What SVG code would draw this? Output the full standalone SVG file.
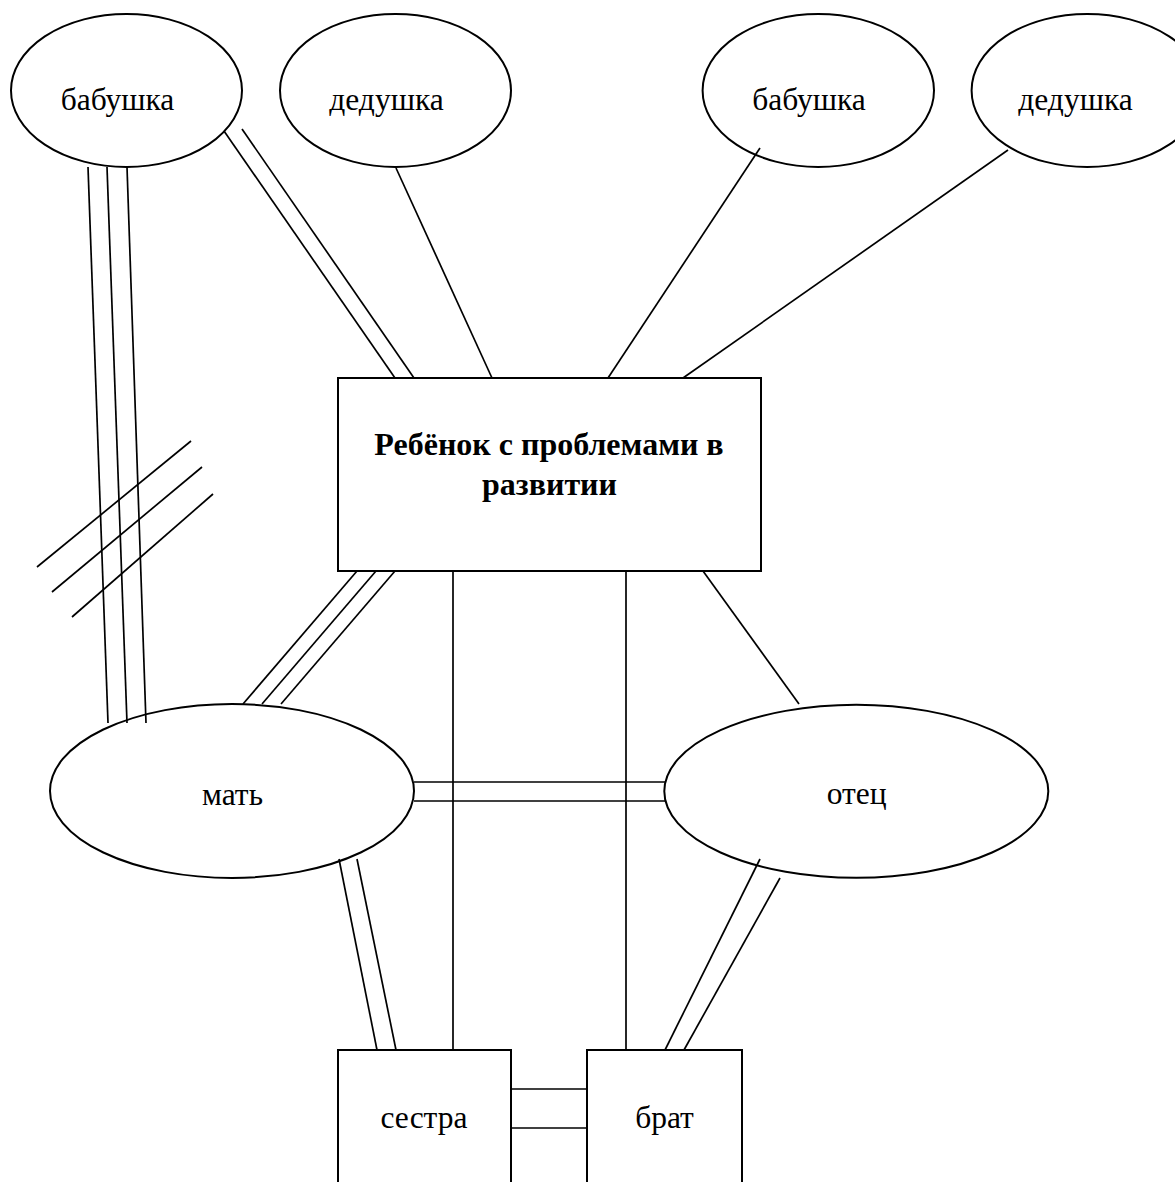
<svg xmlns="http://www.w3.org/2000/svg" width="1175" height="1182" viewBox="0 0 1175 1182">
<style>
.shape{fill:none;stroke:#000;stroke-width:2}
.ln{stroke:#000;stroke-width:1.7;fill:none}
.t{font-family:"Liberation Serif","Times New Roman",serif;font-size:31.5px;fill:#000;text-anchor:middle}
.tb{font-family:"Liberation Serif","Times New Roman",serif;font-size:32px;font-weight:bold;fill:#000;text-anchor:middle}
</style>
<rect width="1175" height="1182" fill="#fff"/>
<g id="connectors">
<line class="ln" x1="88" y1="167" x2="108" y2="723"/>
<line class="ln" x1="107" y1="167" x2="127" y2="723"/>
<line class="ln" x1="127" y1="167" x2="146" y2="723"/>
<line class="ln" x1="37" y1="567" x2="191" y2="441"/>
<line class="ln" x1="52" y1="592" x2="202" y2="467"/>
<line class="ln" x1="72" y1="617" x2="213" y2="494"/>
<line class="ln" x1="224" y1="131" x2="395" y2="378"/>
<line class="ln" x1="242" y1="129" x2="414" y2="378"/>
<line class="ln" x1="396" y1="168" x2="492" y2="378"/>
<line class="ln" x1="760" y1="148" x2="608" y2="378"/>
<line class="ln" x1="1008" y1="150" x2="683" y2="378"/>
<line class="ln" x1="357" y1="571" x2="243" y2="704"/>
<line class="ln" x1="376" y1="571" x2="262" y2="704"/>
<line class="ln" x1="395" y1="571" x2="281" y2="704"/>
<line class="ln" x1="453" y1="571" x2="453" y2="1050"/>
<line class="ln" x1="626" y1="571" x2="626" y2="1050"/>
<line class="ln" x1="703" y1="571" x2="799" y2="704"/>
<line class="ln" x1="414" y1="782" x2="665" y2="782"/>
<line class="ln" x1="414" y1="801" x2="665" y2="801"/>
<line class="ln" x1="339" y1="859" x2="377" y2="1050"/>
<line class="ln" x1="357" y1="859" x2="396" y2="1050"/>
<line class="ln" x1="760" y1="859" x2="665" y2="1050"/>
<line class="ln" x1="780" y1="878" x2="684" y2="1050"/>
<line class="ln" x1="511" y1="1089" x2="587" y2="1089"/>
<line class="ln" x1="511" y1="1128" x2="587" y2="1128"/>
</g>
<g id="grandmother-maternal">
<ellipse class="shape" cx="126.5" cy="90.5" rx="115.5" ry="76.5"/>
<text class="t" x="117.5" y="110">бабушка</text>
</g>
<g id="grandfather-maternal">
<ellipse class="shape" cx="395.5" cy="90.5" rx="115.5" ry="76.5"/>
<text class="t" x="386.5" y="110">дедушка</text>
</g>
<g id="grandmother-paternal">
<ellipse class="shape" cx="818.3" cy="90.5" rx="115.7" ry="76.5"/>
<text class="t" x="809" y="110">бабушка</text>
</g>
<g id="grandfather-paternal">
<ellipse class="shape" cx="1087.3" cy="90.5" rx="115.7" ry="76.5"/>
<text class="t" x="1075.5" y="110">дедушка</text>
</g>
<g id="child">
<rect class="shape" x="338" y="378" width="423" height="193"/>
<text class="tb" x="549" y="455">Ребёнок с проблемами в</text>
<text class="tb" x="549.5" y="495">развитии</text>
</g>
<g id="mother">
<ellipse class="shape" cx="232" cy="791" rx="182" ry="87"/>
<text class="t" x="232.5" y="805">мать</text>
</g>
<g id="father">
<ellipse class="shape" cx="856.3" cy="791.3" rx="192" ry="86.5"/>
<text class="t" x="856.7" y="804">отец</text>
</g>
<g id="sister">
<rect class="shape" x="338" y="1050" width="173" height="160"/>
<text class="t" x="424" y="1128">сестра</text>
</g>
<g id="brother">
<rect class="shape" x="587" y="1050" width="155" height="160"/>
<text class="t" x="664.5" y="1128">брат</text>
</g>
</svg>
